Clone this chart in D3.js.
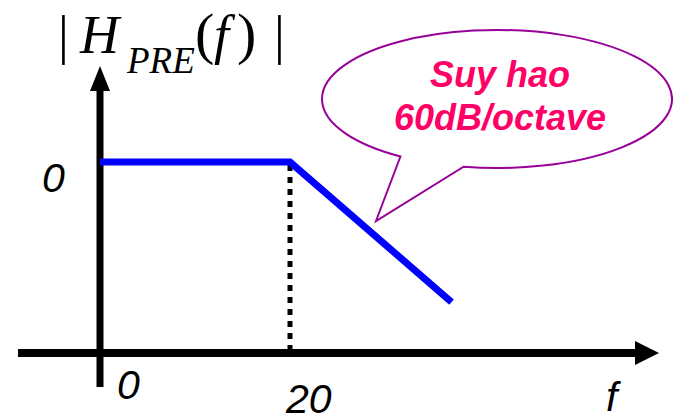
<!DOCTYPE html>
<html>
<head>
<meta charset="utf-8">
<script src="https://cdn.jsdelivr.net/npm/d3@7"></script>
<style>
  body { margin: 0; background: #fff; }
  svg { display: block; }
</style>
</head>
<body>
<svg id="drawing_region"></svg>
<script>
// response curve: flat 0 dB up to 20, then rolling off
const freqs = [0, 20, 37];
const gains = [0, 0, -44];
const xTicks = [0, 20];
const yTicks = [0];
const calloutLines = ["Suy hao", "60dB/octave"];

const width = 673, height = 414;

const svg = d3.select('#drawing_region')
    .attr('width', width)
    .attr('height', height);

const xscale = d3.scaleLinear().domain([0, 20]).range([100, 290]);
const yscale = d3.scaleLinear().domain([-60, 0]).range([353, 162]);

const x0 = xscale(0);
const yBase = yscale(-60);

// callout bubble (behind everything else)
const cx = 497, cy = 99, rx = 175, ry = 69;
const pt = t => [cx + rx * Math.cos(t), cy + ry * Math.sin(t)];
const a = pt(123.5 * Math.PI / 180);
const b = pt(101 * Math.PI / 180);
svg.append('path')
    .attr('d', `M${a[0]},${a[1]} A${rx},${ry} 0 1 1 ${b[0]},${b[1]} L376,221 Z`)
    .attr('fill', '#fff')
    .attr('stroke', '#990099')
    .attr('stroke-width', 2);

svg.append('g').selectAll('text')
    .data(calloutLines)
    .join('text')
    .attr('x', cx + 3)
    .attr('y', (d, i) => 87 + i * 43)
    .attr('text-anchor', 'middle')
    .attr('font-family', 'Liberation Sans, Arial, sans-serif')
    .attr('font-size', 36)
    .attr('font-weight', 'bold')
    .attr('font-style', 'italic')
    .attr('fill', '#ff0066')
    .text(d => d);

// dotted drop line at the corner frequency
svg.append('line')
    .attr('x1', xscale(20)).attr('x2', xscale(20))
    .attr('y1', yscale(0) + 3).attr('y2', yBase)
    .attr('stroke', '#000')
    .attr('stroke-width', 5)
    .attr('stroke-dasharray', '6,6');

// axes
svg.append('line')
    .attr('x1', 18).attr('x2', 640)
    .attr('y1', yBase).attr('y2', yBase)
    .attr('stroke', '#000').attr('stroke-width', 8);
svg.append('path')
    .attr('d', `M635,${yBase - 12} L659,${yBase} L635,${yBase + 12} Z`)
    .attr('fill', '#000');

svg.append('line')
    .attr('x1', x0).attr('x2', x0)
    .attr('y1', 387).attr('y2', 86)
    .attr('stroke', '#000').attr('stroke-width', 7);
svg.append('path')
    .attr('d', `M${x0 - 10},91 L${x0},66 L${x0 + 10},91 Z`)
    .attr('fill', '#000');

// response line
const line = d3.line()
    .x(d => xscale(d[0]))
    .y(d => yscale(d[1]));
svg.append('path')
    .attr('d', line(d3.zip(freqs, gains)))
    .attr('fill', 'none')
    .attr('stroke', '#0000ff')
    .attr('stroke-width', 7)
    .attr('stroke-linejoin', 'miter');

// tick labels
const labelFont = 'Liberation Sans, Arial, sans-serif';
svg.append('g').selectAll('text')
    .data(yTicks)
    .join('text')
    .attr('x', x0 - 58)
    .attr('y', d => yscale(d) + 30)
    .attr('font-family', labelFont)
    .attr('font-style', 'italic')
    .attr('font-size', 41)
    .text(d => d);

svg.append('g').selectAll('text')
    .data(xTicks)
    .join('text')
    .attr('x', d => d === 0 ? xscale(d) + 17 : xscale(d) - 4)
    .attr('y', d => d === 0 ? 399 : 413)
    .attr('font-family', labelFont)
    .attr('font-style', 'italic')
    .attr('font-size', 41)
    .text(d => d);

svg.append('text')
    .attr('x', 606).attr('y', 411)
    .attr('font-family', labelFont)
    .attr('font-style', 'italic')
    .attr('font-size', 41)
    .text('f');

// title |H_PRE(f)|
const serif = 'Liberation Serif, Times New Roman, serif';
const title = svg.append('text')
    .attr('font-family', serif)
    .attr('font-size', 54)
    .attr('y', 53);
title.append('tspan').attr('x', 58).text('|');
title.append('tspan').attr('x', 80).attr('font-style', 'italic').text('H');
title.append('tspan').attr('x', 127).attr('dy', 20).attr('font-size', 37)
    .attr('font-style', 'italic').text('PRE');
title.append('tspan').attr('x', 195).attr('dy', -20).attr('font-size', 58).text('(');
title.append('tspan').attr('x', 214).attr('font-style', 'italic').text('f');
title.append('tspan').attr('x', 237).attr('font-size', 58).text(')');
title.append('tspan').attr('x', 274).text('|');
</script>
</body>
</html>
